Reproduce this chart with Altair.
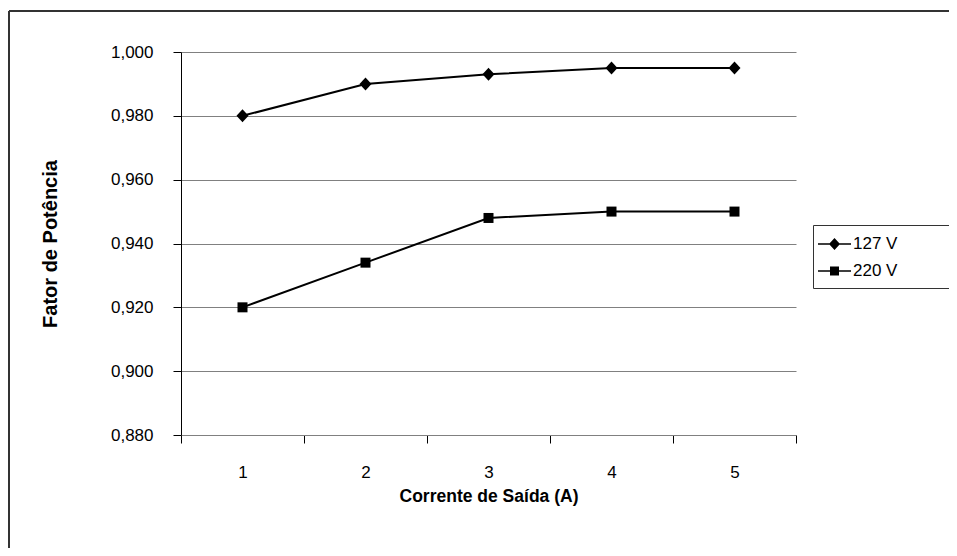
import altair as alt
import pandas as pd

# ---- data ----
corrente = [1, 2, 3, 4, 5]
fp_127 = [0.980, 0.990, 0.993, 0.995, 0.995]
fp_220 = [0.920, 0.934, 0.948, 0.950, 0.950]
series = ["127 V", "220 V"]
y_ticks = [0.880, 0.900, 0.920, 0.940, 0.960, 0.980, 1.000]

rows = []
for s, vals in zip(series, [fp_127, fp_220]):
    for c, v in zip(corrente, vals):
        rows.append({"corrente": str(c), "fp": v, "serie": s})
df = pd.DataFrame(rows)

FONT = "Liberation Sans"
W, H = 615, 383

x_enc = alt.X(
    "corrente:O",
    sort=[str(c) for c in corrente],
    scale=alt.Scale(type="band", paddingInner=0, paddingOuter=0),
    axis=alt.Axis(
        title="Corrente de Saída (A)",
        labelAngle=0,
        tickBand="extent",
        tickSize=8,
        tickColor="black",
        domainColor="#808080",
        labelPadding=21,
        titlePadding=7,
        titleFontSize=17.5,
        grid=False,
    ),
)
y_enc = alt.Y(
    "fp:Q",
    scale=alt.Scale(domain=[0.88, 1.0], nice=False, zero=False),
    axis=alt.Axis(
        title="Fator de Potência",
        values=y_ticks,
        labelExpr="replace(format(datum.value, '.3f'), '.', ',')",
        tickSize=8,
        tickColor="black",
        domainColor="black",
        gridColor="#808080",
        gridWidth=1,
        labelPadding=20,
        titlePadding=50,
        titleFontSize=20,
    ),
)

base = alt.Chart(df)

line = base.mark_line(color="black", strokeWidth=2).encode(
    x=x_enc, y=y_enc, detail="serie:N"
)

marker_paths = [
    "M0,-1.3L1.2,0L0,1.3L-1.2,0Z",
    "M-1,-1H1V1H-1Z",
]
points = base.mark_point(filled=True, color="black", opacity=1, size=100).encode(
    x=x_enc,
    y=y_enc,
    shape=alt.Shape(
        "serie:N", scale=alt.Scale(domain=series, range=marker_paths), legend=None
    ),
)

legend_paths = [
    "M-1.4,-0.08H1.9V0.08H-1.4ZM0.25,-0.6L0.8,0L0.25,0.6L-0.3,0Z",
    "M-1.4,-0.08H1.9V0.08H-1.4ZM-0.2,-0.45H0.7V0.45H-0.2Z",
]
legend_layer = (
    base.mark_point(filled=True, color="black", opacity=1, size=400)
    .encode(
        x=x_enc,
        y=y_enc,
        shape=alt.Shape(
            "serie:N",
            scale=alt.Scale(domain=series, range=legend_paths),
            legend=alt.Legend(
                title=" ",
                titleOrient="right",
                titleColor="white",
                titleFontSize=16,
                titlePadding=60,
                orient="none",
                legendX=632,
                legendY=173,
                strokeColor="#333333",
                fillColor="white",
                padding=9,
                labelFont=FONT,
                labelFontSize=17,
                labelColor="black",
                labelOffset=11,
                rowPadding=9,
                symbolSize=400,
                symbolStrokeWidth=0,
                symbolFillColor="black",
                symbolOpacity=1,
            ),
        ),
    )
    .transform_filter("false")
)

frame_top = base.mark_rule(stroke="#333333", strokeWidth=2, clip=False).encode(
    x=alt.value(-172), x2=alt.value(W + 300), y=alt.value(-41)
)
frame_left = base.mark_rule(stroke="#333333", strokeWidth=2, clip=False).encode(
    x=alt.value(-172), y=alt.value(-41), y2=alt.value(H + 300)
)

chart = (
    alt.layer(frame_top, frame_left, line, points, legend_layer)
    .resolve_scale(shape="independent")
    .properties(
        width=W,
        height=H,
        autosize=alt.AutoSizeParams(type="none"),
        padding={"left": 173, "top": 44, "right": 153, "bottom": 113},
        background="white",
    )
    .configure_view(stroke=None)
    .configure_axis(
        labelFont=FONT,
        labelFontSize=17,
        labelColor="black",
        titleFont=FONT,
        titleFontWeight="bold",
        titleColor="black",
    )
)

chart.save("out.html", embed_options={"renderer": "svg", "actions": False})
